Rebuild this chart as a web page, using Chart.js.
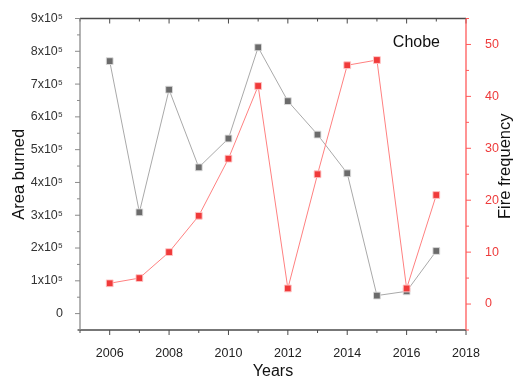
<!DOCTYPE html>
<html><head><meta charset="utf-8">
<script src="https://cdn.jsdelivr.net/npm/chart.js@4.4.1/dist/chart.umd.min.js"></script>
<style>html,body{margin:0;padding:0;background:#fff;}</style>
</head><body>
<canvas id="c" width="519" height="389"></canvas>
<script>
const years = [2006, 2007, 2008, 2009, 2010, 2011, 2012, 2013, 2014, 2015, 2016, 2017];
const areaBurned = [770000, 309000, 683000, 446000, 534000, 812000, 648000, 546000, 428000, 55000, 68000, 191000];
const fireFrequency = [4, 5, 10, 17, 28, 42, 3, 25, 46, 47, 3, 21];
const xTicks = [2006, 2008, 2010, 2012, 2014, 2016, 2018];
const areaTicks = [0, 100000, 200000, 300000, 400000, 500000, 600000, 700000, 800000, 900000];
const freqTicks = [0, 10, 20, 30, 40, 50];
const siteLabel = 'Chobe';
const xTitle = 'Years';
const yLeftTitle = 'Area burned';
const yRightTitle = 'Fire frequency';

const FONT = "'Liberation Sans', Arial, sans-serif";

function minorsOf(ticks) {
  const out = [];
  const step = ticks[1] - ticks[0];
  out.push(ticks[0] - step / 2);
  for (let i = 0; i < ticks.length - 1; i++) out.push((ticks[i] + ticks[i + 1]) / 2);
  out.push(ticks[ticks.length - 1] + step / 2);
  return out;
}

const framePlugin = {
  id: 'frame',
  beforeDatasetsDraw(chart) {
    const { ctx, chartArea: a, scales } = chart;
    const sx = scales.x, yl = scales.yL, yr = scales.yR;
    ctx.save();
    const seg = (x1, y1, x2, y2) => { ctx.beginPath(); ctx.moveTo(x1, y1); ctx.lineTo(x2, y2); ctx.stroke(); };
    ctx.lineWidth = 1.3;
    const inX = v => v >= sx.min - 1e-9 && v <= sx.max + 1e-9;
    ctx.strokeStyle = '#4a4a4a';
    seg(a.left - 2, a.bottom, a.right, a.bottom);
    seg(a.left, a.top, a.right, a.top);
    ctx.lineWidth = 1;
    xTicks.forEach(v => { if (!inX(v)) return; const p = sx.getPixelForValue(v); seg(p, a.bottom, p, a.bottom + 5); seg(p, a.top, p, a.top + 5); });
    minorsOf(xTicks).forEach(v => { if (!inX(v)) return; const p = sx.getPixelForValue(v); seg(p, a.bottom, p, a.bottom + 3); seg(p, a.top, p, a.top + 3); });
    ctx.strokeStyle = '#8a8a8a';
    ctx.lineWidth = 1.3;
    seg(a.left, a.top, a.left, a.bottom);
    ctx.lineWidth = 1;
    areaTicks.forEach(v => { const p = yl.getPixelForValue(v); seg(a.left - 5, p, a.left, p); });
    minorsOf(areaTicks).forEach(v => { if (v < yl.min || v > yl.max) return; const p = yl.getPixelForValue(v); seg(a.left - 3, p, a.left, p); });
    ctx.strokeStyle = '#ff5a5a';
    ctx.lineWidth = 1.3;
    seg(a.right, a.top, a.right, a.bottom);
    ctx.lineWidth = 1;
    freqTicks.forEach(v => { const p = yr.getPixelForValue(v); seg(a.right, p, a.right + 5, p); });
    minorsOf(freqTicks).forEach(v => { if (v < yr.min || v > yr.max) return; const p = yr.getPixelForValue(v); seg(a.right, p, a.right + 3, p); });
    ctx.restore();
  },
  afterDatasetsDraw(chart) {
    const { ctx, chartArea: a, scales } = chart;
    ctx.save();
    ctx.fillStyle = '#111';
    ctx.font = '16px ' + FONT;
    ctx.textAlign = 'right';
    ctx.textBaseline = 'middle';
    ctx.fillText(siteLabel, a.right - 26, a.top + 24);
    const yr = scales.yR;
    ctx.translate(yr.right - 14, (a.top + a.bottom) / 2 - 8);
    ctx.rotate(-Math.PI / 2);
    ctx.textAlign = 'center';
    ctx.font = '16.5px ' + FONT;
    ctx.fillText(yRightTitle, 0, 0);
    ctx.restore();
  }
};

const fixSize = (w, h) => function (scale) { if (w != null) scale.width = w; if (h != null) scale.height = h; };

new Chart(document.getElementById('c'), {
  type: 'line',
  data: {
    datasets: [
      {
        label: yRightTitle,
        data: years.map((y, i) => ({ x: y, y: fireFrequency[i] })),
        yAxisID: 'yR',
        borderColor: '#ff8080',
        borderWidth: 1,
        backgroundColor: '#f03a3a',
        pointStyle: 'rect',
        pointRadius: 4.8,
        pointBorderColor: 'rgba(255,200,200,0.9)',
        pointBorderWidth: 1,
        tension: 0
      },
      {
        label: yLeftTitle,
        data: years.map((y, i) => ({ x: y, y: areaBurned[i] })),
        yAxisID: 'yL',
        borderColor: '#a9a9a9',
        borderWidth: 1,
        backgroundColor: '#6b6b6b',
        pointStyle: 'rect',
        pointRadius: 4.8,
        pointBorderColor: 'rgba(220,220,220,0.9)',
        pointBorderWidth: 1,
        tension: 0
      }
    ]
  },
  options: {
    responsive: false,
    animation: false,
    devicePixelRatio: 1,
    layout: { padding: { top: 17, left: 0, right: 0, bottom: 0 } },
    plugins: { legend: { display: false }, tooltip: { enabled: false } },
    scales: {
      x: {
        type: 'linear',
        min: 2005, max: 2018,
        afterBuildTicks: s => { s.ticks = xTicks.map(v => ({ value: v })); },
        afterFit: fixSize(null, 59),
        grid: { display: false },
        border: { display: false },
        ticks: { font: { size: 12.5, family: FONT }, color: '#222', padding: 8, autoSkip: false, maxRotation: 0, callback: v => String(v) },
        title: { display: true, text: xTitle, font: { size: 16, family: FONT }, color: '#111', padding: { top: 0, bottom: 8 } }
      },
      yL: {
        type: 'linear', position: 'left',
        min: -50000, max: 900000,
        afterBuildTicks: s => { s.ticks = areaTicks.map(v => ({ value: v })); },
        afterFit: fixSize(80, null),
        grid: { display: false },
        border: { display: false },
        ticks: { font: { size: 12.5, family: FONT }, color: '#333', padding: 9, callback: v => v === 0 ? '0' : (v / 100000) + 'x10\u2075' },
        title: { display: true, text: yLeftTitle, font: { size: 16.5, family: FONT }, color: '#111', padding: { top: 10, bottom: 0 } }
      },
      yR: {
        type: 'linear', position: 'right',
        min: -5, max: 55,
        afterBuildTicks: s => { s.ticks = freqTicks.map(v => ({ value: v })); },
        afterFit: fixSize(53, null),
        grid: { display: false },
        border: { display: false },
        ticks: { font: { size: 12.5, family: FONT }, color: '#ee3b3b', padding: 11, callback: v => String(v) },
        title: { display: false, text: yRightTitle }
      }
    }
  },
  plugins: [framePlugin]
});
</script>
</body></html>
